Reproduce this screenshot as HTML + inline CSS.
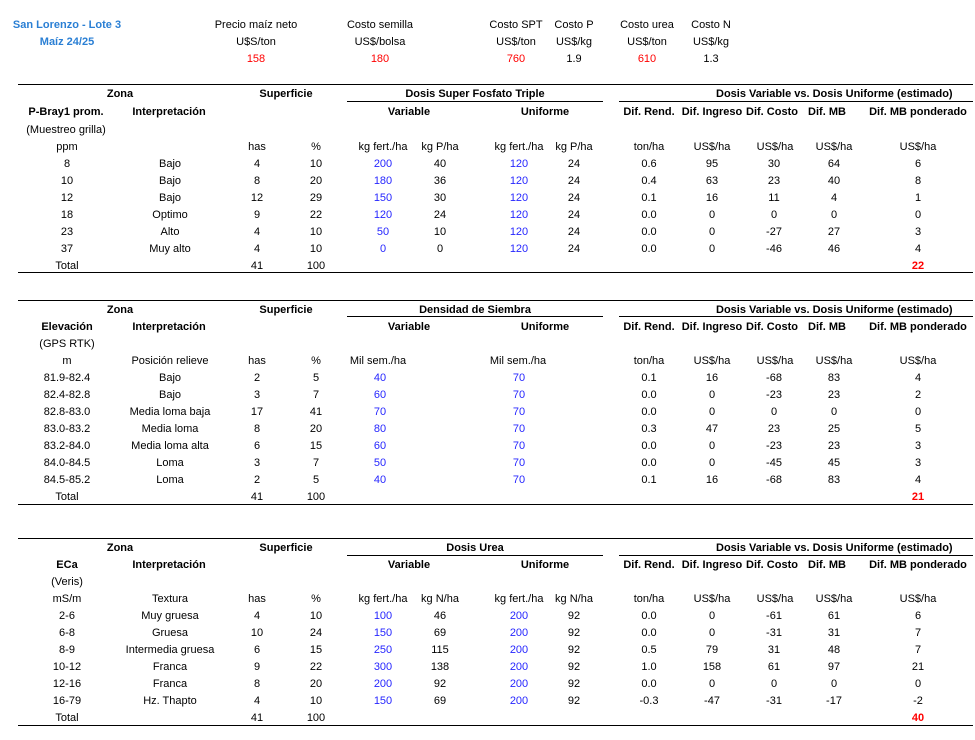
<!DOCTYPE html>
<html><head><meta charset="utf-8"><style>
body{margin:0;width:975px;height:740px;background:#fff;position:relative;overflow:hidden;font-family:"Liberation Sans",sans-serif;font-size:11px;color:#000}
.c{position:absolute;width:160px;margin-left:-80px;text-align:center;height:14px;line-height:14px;margin-top:-6px;white-space:nowrap}
.b{font-weight:bold}
.u{color:#2626ff}
.r{color:#ff0000}
.t{color:#2a7fd4;font-weight:bold}
.l{position:absolute;height:1px;background:#000}
</style></head><body>
<div class="c t" style="left:67px;top:24px">San Lorenzo - Lote 3</div>
<div class="c t" style="left:67px;top:41px">Maíz 24/25</div>
<div class="c" style="left:256px;top:24px">Precio maíz neto</div><div class="c" style="left:256px;top:41px">U$S/ton</div><div class="c r" style="left:256px;top:58px">158</div>
<div class="c" style="left:380px;top:24px">Costo semilla</div><div class="c" style="left:380px;top:41px">US$/bolsa</div><div class="c r" style="left:380px;top:58px">180</div>
<div class="c" style="left:516px;top:24px">Costo SPT</div><div class="c" style="left:516px;top:41px">US$/ton</div><div class="c r" style="left:516px;top:58px">760</div>
<div class="c" style="left:574px;top:24px">Costo P</div><div class="c" style="left:574px;top:41px">US$/kg</div><div class="c" style="left:574px;top:58px">1.9</div>
<div class="c" style="left:647px;top:24px">Costo urea</div><div class="c" style="left:647px;top:41px">US$/ton</div><div class="c r" style="left:647px;top:58px">610</div>
<div class="c" style="left:711px;top:24px">Costo N</div><div class="c" style="left:711px;top:41px">US$/kg</div><div class="c" style="left:711px;top:58px">1.3</div>

<!-- Table 1 -->
<div class="l" style="left:18px;width:955px;top:84px"></div>
<div class="l" style="left:347px;width:256px;top:101px"></div>
<div class="l" style="left:619px;width:354px;top:101px"></div>
<div class="l" style="left:18px;width:955px;top:272px"></div>
<div class="c b" style="left:120px;top:93px">Zona</div>
<div class="c b" style="left:286px;top:93px">Superficie</div>
<div class="c b" style="left:475px;top:93px">Dosis Super Fosfato Triple</div>
<div class="c b" style="left:796px;top:93px">Dosis Variable vs. Dosis Uniforme (estimado)</div>
<div class="c b" style="left:66px;top:111px">P-Bray1 prom.</div>
<div class="c b" style="left:169px;top:111px">Interpretación</div>
<div class="c b" style="left:409px;top:111px">Variable</div>
<div class="c b" style="left:545px;top:111px">Uniforme</div>
<div class="c b" style="left:649px;top:111px">Dif. Rend.</div>
<div class="c b" style="left:712px;top:111px">Dif. Ingreso</div>
<div class="c b" style="left:772px;top:111px">Dif. Costo</div>
<div class="c b" style="left:827px;top:111px">Dif. MB</div>
<div class="c b" style="left:918px;top:111px">Dif. MB ponderado</div>
<div class="c" style="left:66px;top:129px">(Muestreo grilla)</div>
<div class="c" style="left:67px;top:146px">ppm</div><div class="c" style="left:257px;top:146px">has</div><div class="c" style="left:316px;top:146px">%</div>
<div class="c" style="left:383px;top:146px">kg fert./ha</div><div class="c" style="left:440px;top:146px">kg P/ha</div><div class="c" style="left:519px;top:146px">kg fert./ha</div><div class="c" style="left:574px;top:146px">kg P/ha</div>
<div class="c" style="left:649px;top:146px">ton/ha</div><div class="c" style="left:712px;top:146px">US$/ha</div><div class="c" style="left:775px;top:146px">US$/ha</div><div class="c" style="left:834px;top:146px">US$/ha</div><div class="c" style="left:918px;top:146px">US$/ha</div>

<div class="c" style="left:67px;top:163px">8</div><div class="c" style="left:170px;top:163px">Bajo</div><div class="c" style="left:257px;top:163px">4</div><div class="c" style="left:316px;top:163px">10</div><div class="c u" style="left:383px;top:163px">200</div><div class="c" style="left:440px;top:163px">40</div><div class="c u" style="left:519px;top:163px">120</div><div class="c" style="left:574px;top:163px">24</div><div class="c" style="left:649px;top:163px">0.6</div><div class="c" style="left:712px;top:163px">95</div><div class="c" style="left:774px;top:163px">30</div><div class="c" style="left:834px;top:163px">64</div><div class="c" style="left:918px;top:163px">6</div>
<div class="c" style="left:67px;top:180px">10</div><div class="c" style="left:170px;top:180px">Bajo</div><div class="c" style="left:257px;top:180px">8</div><div class="c" style="left:316px;top:180px">20</div><div class="c u" style="left:383px;top:180px">180</div><div class="c" style="left:440px;top:180px">36</div><div class="c u" style="left:519px;top:180px">120</div><div class="c" style="left:574px;top:180px">24</div><div class="c" style="left:649px;top:180px">0.4</div><div class="c" style="left:712px;top:180px">63</div><div class="c" style="left:774px;top:180px">23</div><div class="c" style="left:834px;top:180px">40</div><div class="c" style="left:918px;top:180px">8</div>
<div class="c" style="left:67px;top:197px">12</div><div class="c" style="left:170px;top:197px">Bajo</div><div class="c" style="left:257px;top:197px">12</div><div class="c" style="left:316px;top:197px">29</div><div class="c u" style="left:383px;top:197px">150</div><div class="c" style="left:440px;top:197px">30</div><div class="c u" style="left:519px;top:197px">120</div><div class="c" style="left:574px;top:197px">24</div><div class="c" style="left:649px;top:197px">0.1</div><div class="c" style="left:712px;top:197px">16</div><div class="c" style="left:774px;top:197px">11</div><div class="c" style="left:834px;top:197px">4</div><div class="c" style="left:918px;top:197px">1</div>
<div class="c" style="left:67px;top:214px">18</div><div class="c" style="left:170px;top:214px">Optimo</div><div class="c" style="left:257px;top:214px">9</div><div class="c" style="left:316px;top:214px">22</div><div class="c u" style="left:383px;top:214px">120</div><div class="c" style="left:440px;top:214px">24</div><div class="c u" style="left:519px;top:214px">120</div><div class="c" style="left:574px;top:214px">24</div><div class="c" style="left:649px;top:214px">0.0</div><div class="c" style="left:712px;top:214px">0</div><div class="c" style="left:774px;top:214px">0</div><div class="c" style="left:834px;top:214px">0</div><div class="c" style="left:918px;top:214px">0</div>
<div class="c" style="left:67px;top:231px">23</div><div class="c" style="left:170px;top:231px">Alto</div><div class="c" style="left:257px;top:231px">4</div><div class="c" style="left:316px;top:231px">10</div><div class="c u" style="left:383px;top:231px">50</div><div class="c" style="left:440px;top:231px">10</div><div class="c u" style="left:519px;top:231px">120</div><div class="c" style="left:574px;top:231px">24</div><div class="c" style="left:649px;top:231px">0.0</div><div class="c" style="left:712px;top:231px">0</div><div class="c" style="left:774px;top:231px">-27</div><div class="c" style="left:834px;top:231px">27</div><div class="c" style="left:918px;top:231px">3</div>
<div class="c" style="left:67px;top:248px">37</div><div class="c" style="left:170px;top:248px">Muy alto</div><div class="c" style="left:257px;top:248px">4</div><div class="c" style="left:316px;top:248px">10</div><div class="c u" style="left:383px;top:248px">0</div><div class="c" style="left:440px;top:248px">0</div><div class="c u" style="left:519px;top:248px">120</div><div class="c" style="left:574px;top:248px">24</div><div class="c" style="left:649px;top:248px">0.0</div><div class="c" style="left:712px;top:248px">0</div><div class="c" style="left:774px;top:248px">-46</div><div class="c" style="left:834px;top:248px">46</div><div class="c" style="left:918px;top:248px">4</div>
<div class="c" style="left:67px;top:265px">Total</div><div class="c" style="left:257px;top:265px">41</div><div class="c" style="left:316px;top:265px">100</div><div class="c r b" style="left:918px;top:265px">22</div>

<!-- Table 2 -->
<div class="l" style="left:18px;width:955px;top:300px"></div>
<div class="l" style="left:347px;width:256px;top:316px"></div>
<div class="l" style="left:619px;width:354px;top:316px"></div>
<div class="l" style="left:18px;width:955px;top:504px"></div>
<div class="c b" style="left:120px;top:309px">Zona</div>
<div class="c b" style="left:286px;top:309px">Superficie</div>
<div class="c b" style="left:475px;top:309px">Densidad de Siembra</div>
<div class="c b" style="left:796px;top:309px">Dosis Variable vs. Dosis Uniforme (estimado)</div>
<div class="c b" style="left:67px;top:326px">Elevación</div>
<div class="c b" style="left:169px;top:326px">Interpretación</div>
<div class="c b" style="left:409px;top:326px">Variable</div>
<div class="c b" style="left:545px;top:326px">Uniforme</div>
<div class="c b" style="left:649px;top:326px">Dif. Rend.</div>
<div class="c b" style="left:712px;top:326px">Dif. Ingreso</div>
<div class="c b" style="left:772px;top:326px">Dif. Costo</div>
<div class="c b" style="left:827px;top:326px">Dif. MB</div>
<div class="c b" style="left:918px;top:326px">Dif. MB ponderado</div>
<div class="c" style="left:67px;top:343px">(GPS RTK)</div>
<div class="c" style="left:67px;top:360px">m</div><div class="c" style="left:170px;top:360px">Posición relieve</div><div class="c" style="left:257px;top:360px">has</div><div class="c" style="left:316px;top:360px">%</div>
<div class="c" style="left:378px;top:360px">Mil sem./ha</div><div class="c" style="left:518px;top:360px">Mil sem./ha</div>
<div class="c" style="left:649px;top:360px">ton/ha</div><div class="c" style="left:712px;top:360px">US$/ha</div><div class="c" style="left:775px;top:360px">US$/ha</div><div class="c" style="left:834px;top:360px">US$/ha</div><div class="c" style="left:918px;top:360px">US$/ha</div>

<div class="c" style="left:67px;top:377px">81.9-82.4</div><div class="c" style="left:170px;top:377px">Bajo</div><div class="c" style="left:257px;top:377px">2</div><div class="c" style="left:316px;top:377px">5</div><div class="c u" style="left:380px;top:377px">40</div><div class="c u" style="left:519px;top:377px">70</div><div class="c" style="left:649px;top:377px">0.1</div><div class="c" style="left:712px;top:377px">16</div><div class="c" style="left:774px;top:377px">-68</div><div class="c" style="left:834px;top:377px">83</div><div class="c" style="left:918px;top:377px">4</div>
<div class="c" style="left:67px;top:394px">82.4-82.8</div><div class="c" style="left:170px;top:394px">Bajo</div><div class="c" style="left:257px;top:394px">3</div><div class="c" style="left:316px;top:394px">7</div><div class="c u" style="left:380px;top:394px">60</div><div class="c u" style="left:519px;top:394px">70</div><div class="c" style="left:649px;top:394px">0.0</div><div class="c" style="left:712px;top:394px">0</div><div class="c" style="left:774px;top:394px">-23</div><div class="c" style="left:834px;top:394px">23</div><div class="c" style="left:918px;top:394px">2</div>
<div class="c" style="left:67px;top:411px">82.8-83.0</div><div class="c" style="left:170px;top:411px">Media loma baja</div><div class="c" style="left:257px;top:411px">17</div><div class="c" style="left:316px;top:411px">41</div><div class="c u" style="left:380px;top:411px">70</div><div class="c u" style="left:519px;top:411px">70</div><div class="c" style="left:649px;top:411px">0.0</div><div class="c" style="left:712px;top:411px">0</div><div class="c" style="left:774px;top:411px">0</div><div class="c" style="left:834px;top:411px">0</div><div class="c" style="left:918px;top:411px">0</div>
<div class="c" style="left:67px;top:428px">83.0-83.2</div><div class="c" style="left:170px;top:428px">Media loma</div><div class="c" style="left:257px;top:428px">8</div><div class="c" style="left:316px;top:428px">20</div><div class="c u" style="left:380px;top:428px">80</div><div class="c u" style="left:519px;top:428px">70</div><div class="c" style="left:649px;top:428px">0.3</div><div class="c" style="left:712px;top:428px">47</div><div class="c" style="left:774px;top:428px">23</div><div class="c" style="left:834px;top:428px">25</div><div class="c" style="left:918px;top:428px">5</div>
<div class="c" style="left:67px;top:445px">83.2-84.0</div><div class="c" style="left:170px;top:445px">Media loma alta</div><div class="c" style="left:257px;top:445px">6</div><div class="c" style="left:316px;top:445px">15</div><div class="c u" style="left:380px;top:445px">60</div><div class="c u" style="left:519px;top:445px">70</div><div class="c" style="left:649px;top:445px">0.0</div><div class="c" style="left:712px;top:445px">0</div><div class="c" style="left:774px;top:445px">-23</div><div class="c" style="left:834px;top:445px">23</div><div class="c" style="left:918px;top:445px">3</div>
<div class="c" style="left:67px;top:462px">84.0-84.5</div><div class="c" style="left:170px;top:462px">Loma</div><div class="c" style="left:257px;top:462px">3</div><div class="c" style="left:316px;top:462px">7</div><div class="c u" style="left:380px;top:462px">50</div><div class="c u" style="left:519px;top:462px">70</div><div class="c" style="left:649px;top:462px">0.0</div><div class="c" style="left:712px;top:462px">0</div><div class="c" style="left:774px;top:462px">-45</div><div class="c" style="left:834px;top:462px">45</div><div class="c" style="left:918px;top:462px">3</div>
<div class="c" style="left:67px;top:479px">84.5-85.2</div><div class="c" style="left:170px;top:479px">Loma</div><div class="c" style="left:257px;top:479px">2</div><div class="c" style="left:316px;top:479px">5</div><div class="c u" style="left:380px;top:479px">40</div><div class="c u" style="left:519px;top:479px">70</div><div class="c" style="left:649px;top:479px">0.1</div><div class="c" style="left:712px;top:479px">16</div><div class="c" style="left:774px;top:479px">-68</div><div class="c" style="left:834px;top:479px">83</div><div class="c" style="left:918px;top:479px">4</div>
<div class="c" style="left:67px;top:496px">Total</div><div class="c" style="left:257px;top:496px">41</div><div class="c" style="left:316px;top:496px">100</div><div class="c r b" style="left:918px;top:496px">21</div>

<!-- Table 3 -->
<div class="l" style="left:18px;width:955px;top:538px"></div>
<div class="l" style="left:347px;width:256px;top:555px"></div>
<div class="l" style="left:619px;width:354px;top:555px"></div>
<div class="l" style="left:18px;width:955px;top:725px"></div>
<div class="c b" style="left:120px;top:547px">Zona</div>
<div class="c b" style="left:286px;top:547px">Superficie</div>
<div class="c b" style="left:475px;top:547px">Dosis Urea</div>
<div class="c b" style="left:796px;top:547px">Dosis Variable vs. Dosis Uniforme (estimado)</div>
<div class="c b" style="left:67px;top:564px">ECa</div>
<div class="c b" style="left:169px;top:564px">Interpretación</div>
<div class="c b" style="left:409px;top:564px">Variable</div>
<div class="c b" style="left:545px;top:564px">Uniforme</div>
<div class="c b" style="left:649px;top:564px">Dif. Rend.</div>
<div class="c b" style="left:712px;top:564px">Dif. Ingreso</div>
<div class="c b" style="left:772px;top:564px">Dif. Costo</div>
<div class="c b" style="left:827px;top:564px">Dif. MB</div>
<div class="c b" style="left:918px;top:564px">Dif. MB ponderado</div>
<div class="c" style="left:67px;top:581px">(Veris)</div>
<div class="c" style="left:67px;top:598px">mS/m</div><div class="c" style="left:170px;top:598px">Textura</div><div class="c" style="left:257px;top:598px">has</div><div class="c" style="left:316px;top:598px">%</div>
<div class="c" style="left:383px;top:598px">kg fert./ha</div><div class="c" style="left:440px;top:598px">kg N/ha</div><div class="c" style="left:519px;top:598px">kg fert./ha</div><div class="c" style="left:574px;top:598px">kg N/ha</div>
<div class="c" style="left:649px;top:598px">ton/ha</div><div class="c" style="left:712px;top:598px">US$/ha</div><div class="c" style="left:775px;top:598px">US$/ha</div><div class="c" style="left:834px;top:598px">US$/ha</div><div class="c" style="left:918px;top:598px">US$/ha</div>

<div class="c" style="left:67px;top:615px">2-6</div><div class="c" style="left:170px;top:615px">Muy gruesa</div><div class="c" style="left:257px;top:615px">4</div><div class="c" style="left:316px;top:615px">10</div><div class="c u" style="left:383px;top:615px">100</div><div class="c" style="left:440px;top:615px">46</div><div class="c u" style="left:519px;top:615px">200</div><div class="c" style="left:574px;top:615px">92</div><div class="c" style="left:649px;top:615px">0.0</div><div class="c" style="left:712px;top:615px">0</div><div class="c" style="left:774px;top:615px">-61</div><div class="c" style="left:834px;top:615px">61</div><div class="c" style="left:918px;top:615px">6</div>
<div class="c" style="left:67px;top:632px">6-8</div><div class="c" style="left:170px;top:632px">Gruesa</div><div class="c" style="left:257px;top:632px">10</div><div class="c" style="left:316px;top:632px">24</div><div class="c u" style="left:383px;top:632px">150</div><div class="c" style="left:440px;top:632px">69</div><div class="c u" style="left:519px;top:632px">200</div><div class="c" style="left:574px;top:632px">92</div><div class="c" style="left:649px;top:632px">0.0</div><div class="c" style="left:712px;top:632px">0</div><div class="c" style="left:774px;top:632px">-31</div><div class="c" style="left:834px;top:632px">31</div><div class="c" style="left:918px;top:632px">7</div>
<div class="c" style="left:67px;top:649px">8-9</div><div class="c" style="left:170px;top:649px">Intermedia gruesa</div><div class="c" style="left:257px;top:649px">6</div><div class="c" style="left:316px;top:649px">15</div><div class="c u" style="left:383px;top:649px">250</div><div class="c" style="left:440px;top:649px">115</div><div class="c u" style="left:519px;top:649px">200</div><div class="c" style="left:574px;top:649px">92</div><div class="c" style="left:649px;top:649px">0.5</div><div class="c" style="left:712px;top:649px">79</div><div class="c" style="left:774px;top:649px">31</div><div class="c" style="left:834px;top:649px">48</div><div class="c" style="left:918px;top:649px">7</div>
<div class="c" style="left:67px;top:666px">10-12</div><div class="c" style="left:170px;top:666px">Franca</div><div class="c" style="left:257px;top:666px">9</div><div class="c" style="left:316px;top:666px">22</div><div class="c u" style="left:383px;top:666px">300</div><div class="c" style="left:440px;top:666px">138</div><div class="c u" style="left:519px;top:666px">200</div><div class="c" style="left:574px;top:666px">92</div><div class="c" style="left:649px;top:666px">1.0</div><div class="c" style="left:712px;top:666px">158</div><div class="c" style="left:774px;top:666px">61</div><div class="c" style="left:834px;top:666px">97</div><div class="c" style="left:918px;top:666px">21</div>
<div class="c" style="left:67px;top:683px">12-16</div><div class="c" style="left:170px;top:683px">Franca</div><div class="c" style="left:257px;top:683px">8</div><div class="c" style="left:316px;top:683px">20</div><div class="c u" style="left:383px;top:683px">200</div><div class="c" style="left:440px;top:683px">92</div><div class="c u" style="left:519px;top:683px">200</div><div class="c" style="left:574px;top:683px">92</div><div class="c" style="left:649px;top:683px">0.0</div><div class="c" style="left:712px;top:683px">0</div><div class="c" style="left:774px;top:683px">0</div><div class="c" style="left:834px;top:683px">0</div><div class="c" style="left:918px;top:683px">0</div>
<div class="c" style="left:67px;top:700px">16-79</div><div class="c" style="left:170px;top:700px">Hz. Thapto</div><div class="c" style="left:257px;top:700px">4</div><div class="c" style="left:316px;top:700px">10</div><div class="c u" style="left:383px;top:700px">150</div><div class="c" style="left:440px;top:700px">69</div><div class="c u" style="left:519px;top:700px">200</div><div class="c" style="left:574px;top:700px">92</div><div class="c" style="left:649px;top:700px">-0.3</div><div class="c" style="left:712px;top:700px">-47</div><div class="c" style="left:774px;top:700px">-31</div><div class="c" style="left:834px;top:700px">-17</div><div class="c" style="left:918px;top:700px">-2</div>
<div class="c" style="left:67px;top:717px">Total</div><div class="c" style="left:257px;top:717px">41</div><div class="c" style="left:316px;top:717px">100</div><div class="c r b" style="left:918px;top:717px">40</div>
</body></html>
